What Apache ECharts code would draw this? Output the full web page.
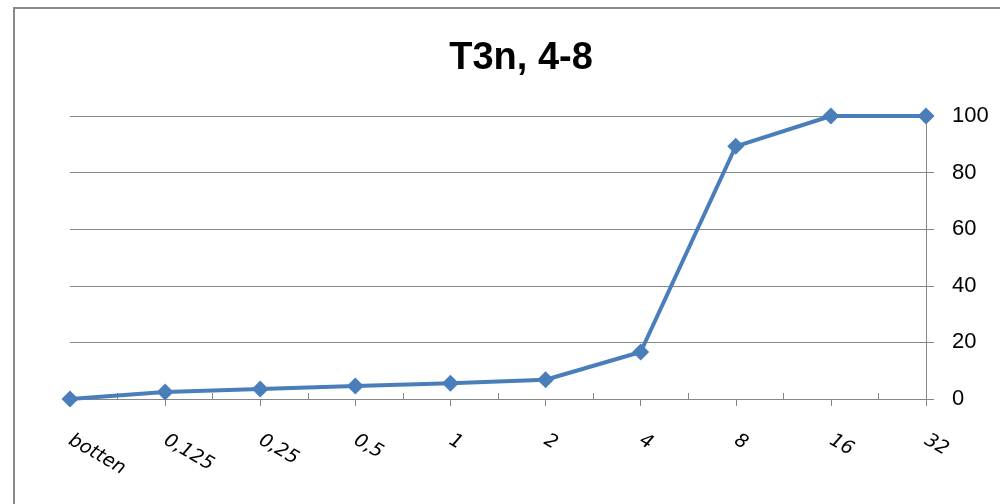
<!DOCTYPE html>
<html>
<head>
<meta charset="utf-8">
<script src="https://cdn.jsdelivr.net/npm/echarts@6/dist/echarts.min.js"></script>
<style>
  html, body { margin: 0; padding: 0; background: #fff; }
  #chart { width: 1000px; height: 504px; }
</style>
</head>
<body>
<div id="chart"></div>
<script>
// Concentration steps and the measured response at each step
const categories = ['botten', '0,125', '0,25', '0,5', '1', '2', '4', '8', '16', '32'];
const values = [0, 2.5, 3.5, 4.6, 5.6, 6.8, 16.6, 89.3, 100, 100];
const yTicks = [0, 20, 40, 60, 80, 100];

const titleText = 'T3n, 4-8';
const gridColor = '#878787';
const lineColor = '#4A7EBB';

// Half-step positions between categories carry the small upward ticks
const halfSteps = [];
for (let i = 0; i < categories.length * 2 - 1; i++) halfSteps.push(String(i));

const chart = echarts.init(document.getElementById('chart'));
chart.setOption({
  animation: false,
  backgroundColor: '#fff',
  title: {
    text: titleText,
    left: 516,
    textAlign: 'center',
    top: 35,
    textStyle: {
      fontFamily: 'Liberation Sans',
      fontWeight: 'bold',
      fontSize: 38,
      color: '#000'
    }
  },
  graphic: [{
    type: 'rect',
    shape: { x: 14, y: 8, width: 1000, height: 520 },
    style: { fill: 'none', stroke: '#8a8a8a', lineWidth: 2 },
    silent: true
  }],
  grid: { left: 70, right: 74, top: 116, bottom: 105 },
  xAxis: [{
    type: 'category',
    data: categories,
    boundaryGap: false,
    axisLine: { show: true, lineStyle: { color: gridColor, width: 1 } },
    axisTick: { show: true, alignWithLabel: true, length: 7, lineStyle: { color: gridColor } },
    axisLabel: {
      interval: 0,
      rotate: -30,
      margin: 40,
      fontFamily: 'DejaVu Sans',
      fontStyle: 'italic',
      fontSize: 19,
      color: '#000'
    },
    splitLine: { show: false }
  }, {
    type: 'category',
    data: halfSteps,
    boundaryGap: false,
    position: 'bottom',
    axisLine: { show: false },
    axisLabel: { show: false },
    axisTick: {
      show: true,
      inside: true,
      length: 6,
      interval: function (i) { return i % 2 === 1; },
      lineStyle: { color: gridColor }
    },
    splitLine: { show: false }
  }],
  yAxis: {
    type: 'value',
    position: 'right',
    min: 0,
    max: 100,
    interval: 20,
    axisLine: { show: true, lineStyle: { color: gridColor, width: 1 } },
    axisTick: { show: true, length: 8, lineStyle: { color: gridColor } },
    axisLabel: {
      margin: 26,
      fontFamily: 'Liberation Sans',
      fontSize: 22,
      color: '#000',
      formatter: function (v) { return yTicks.indexOf(v) >= 0 ? String(v) : ''; }
    },
    splitLine: { show: true, lineStyle: { color: gridColor, width: 1 } }
  },
  series: [{
    type: 'line',
    data: values,
    xAxisIndex: 0,
    symbol: 'diamond',
    symbolSize: 17,
    showAllSymbol: true,
    lineStyle: { color: lineColor, width: 4 },
    itemStyle: { color: lineColor },
    z: 5
  }]
});
</script>
</body>
</html>
